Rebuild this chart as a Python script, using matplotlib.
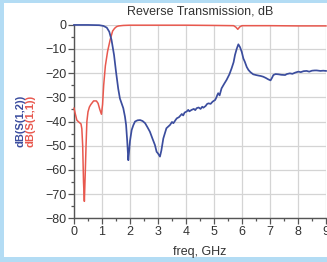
import matplotlib
matplotlib.use('Agg')
import matplotlib.pyplot as plt
from matplotlib.patches import Rectangle
from matplotlib.ticker import MultipleLocator

plt.rcParams['font.family'] = ['Liberation Sans', 'DejaVu Sans']

# S(1,2), reverse transmission (blue)
freq_s12 = [0, 0.5, 0.9, 1.05, 1.17, 1.26, 1.34, 1.43, 1.5, 1.58,
            1.64, 1.7, 1.76, 1.82, 1.86, 1.9, 1.94, 1.97, 2.0, 2.06,
            2.12, 2.18, 2.27, 2.36, 2.45, 2.54, 2.63, 2.71, 2.8, 2.89,
            2.95, 3.0, 3.07, 3.12, 3.19, 3.3, 3.43, 3.5, 3.55, 3.62,
            3.67, 3.75, 3.85, 3.9, 3.95, 4.02, 4.08, 4.12, 4.2, 4.28,
            4.33, 4.38, 4.45, 4.52, 4.58, 4.62, 4.7, 4.75, 4.8, 4.88,
            4.95, 5.04, 5.08, 5.12, 5.15, 5.2, 5.27, 5.36, 5.45, 5.55,
            5.63, 5.7, 5.75, 5.81, 5.87, 5.93, 5.99, 6.05, 6.1, 6.17,
            6.23, 6.3, 6.4, 6.5, 6.58, 6.67, 6.76, 6.85, 6.94, 7.02,
            7.07, 7.12, 7.2, 7.3, 7.4, 7.54, 7.6, 7.71, 7.8, 7.9,
            8.01, 8.1, 8.2, 8.31, 8.4, 8.5, 8.6, 8.67, 8.8, 8.9,
            9.0]
db_s12 = [-0.1, -0.1, -0.2, -0.5, -1.2, -2.9, -6.3, -12.5, -19.4, -26.5,
          -30.5, -32.5, -34.5, -38, -41.4, -48, -56, -52, -48, -43.5,
          -41.5, -40, -39.5, -39.4, -39.8, -40.7, -42.5, -44.2, -47, -49.7,
          -52.5, -53.2, -54.5, -52, -47, -42.8, -41.4, -40.2, -40.7, -39.5,
          -38.7, -38.2, -36.9, -37.5, -36.3, -35.9, -35.2, -35.8, -35.2, -34.8,
          -35.3, -34.5, -34.2, -34.8, -33.9, -34.3, -33.6, -32.8, -32.5, -32.7,
          -31.8, -31.1, -30.2, -29, -28.3, -29.2, -26.3, -24.5, -22.8, -20.5,
          -18, -15.5, -12.5, -10, -8.1, -9.3, -11.2, -14, -15.3, -17.5,
          -18.7, -19.6, -20.5, -20.8, -21, -21.2, -21.5, -22, -22.6, -23,
          -22, -20.8, -20.4, -20.5, -20.7, -20.8, -20.4, -20.1, -20.3, -19.8,
          -19.4, -19.6, -19.2, -19.1, -19.4, -19, -18.9, -18.9, -19.1, -19.0,
          -19.1]

# S(1,1), input reflection (red)
freq_s11 = [0, 0.05, 0.1, 0.15, 0.2, 0.25, 0.28, 0.31, 0.34, 0.37,
            0.4, 0.43, 0.46, 0.5, 0.55, 0.6, 0.7, 0.8, 0.86, 0.92,
            0.98, 1.02, 1.06, 1.12, 1.2, 1.29, 1.38, 1.45, 1.52, 1.6,
            1.76, 2.0, 3.0, 4.0, 5.0, 5.7, 5.78, 5.85, 5.92, 6.0,
            7.0, 8.0, 9.0]
db_s11 = [-34.5, -37, -39.4, -40, -40.5, -41, -43, -50, -65, -73,
          -62, -50, -40, -36, -34, -33, -31.5, -31.5, -32.5, -35,
          -37, -33, -25, -17, -11, -6.3, -2.6, -1.5, -0.8, -0.5,
          -0.3, -0.2, -0.2, -0.2, -0.3, -0.4, -1.0, -1.9, -0.9, -0.4,
          -0.4, -0.5, -0.5]

blue = '#3b4d9e'
red = '#e8584e'
text_c = '#333333'

fig = plt.figure(figsize=(3.27, 2.62), dpi=100, facecolor='#b3dcf4')
fig.add_artist(Rectangle((4 / 327, 5 / 262), 1, 1 - 8 / 262,
                         transform=fig.transFigure, facecolor='white',
                         edgecolor='none', zorder=0))
ax = fig.add_axes([74 / 327, 43.7 / 262, 252 / 327, 193.6 / 262])
ax.set_facecolor('white')

ax.plot(freq_s11, db_s11, color=red, lw=1.1, clip_on=False, zorder=3)
ax.plot(freq_s12, db_s12, color=blue, lw=1.25, clip_on=False, zorder=4)

ax.set_xlim(0, 9)
ax.set_ylim(-80, 0)
ax.xaxis.set_major_locator(MultipleLocator(1))
ax.xaxis.set_minor_locator(MultipleLocator(0.5))
ax.yaxis.set_major_locator(MultipleLocator(10))
ax.yaxis.set_minor_locator(MultipleLocator(5))
ax.grid(True, which='major', color='#d4d4d4', lw=0.9)
ax.tick_params(which='major', direction='out', length=4, width=0.9,
               color='#555555', labelsize=9, labelcolor=text_c, pad=1.5)
ax.tick_params(which='minor', direction='out', length=2, width=0.9,
               color='#555555')
for side in ('top', 'right'):
    ax.spines[side].set_visible(False)
for side in ('left', 'bottom'):
    ax.spines[side].set_color('#555555')
    ax.spines[side].set_linewidth(1.0)

ax.set_title('Reverse Transmission, dB', fontsize=9, color=text_c, pad=7.5)
ax.set_xlabel('freq, GHz', fontsize=9, color=text_c, labelpad=6)

ymid = 1 - 121 / 262
fig.text(20 / 327, ymid, 'dB(S(1,2))', rotation=90, color=blue,
         fontsize=8, fontweight='bold', ha='center', va='center')
fig.text(30 / 327, ymid, 'dB(S(1,1))', rotation=90, color=red,
         fontsize=8, fontweight='bold', ha='center', va='center')

fig.savefig('out.png', dpi=100, facecolor=fig.get_facecolor())
